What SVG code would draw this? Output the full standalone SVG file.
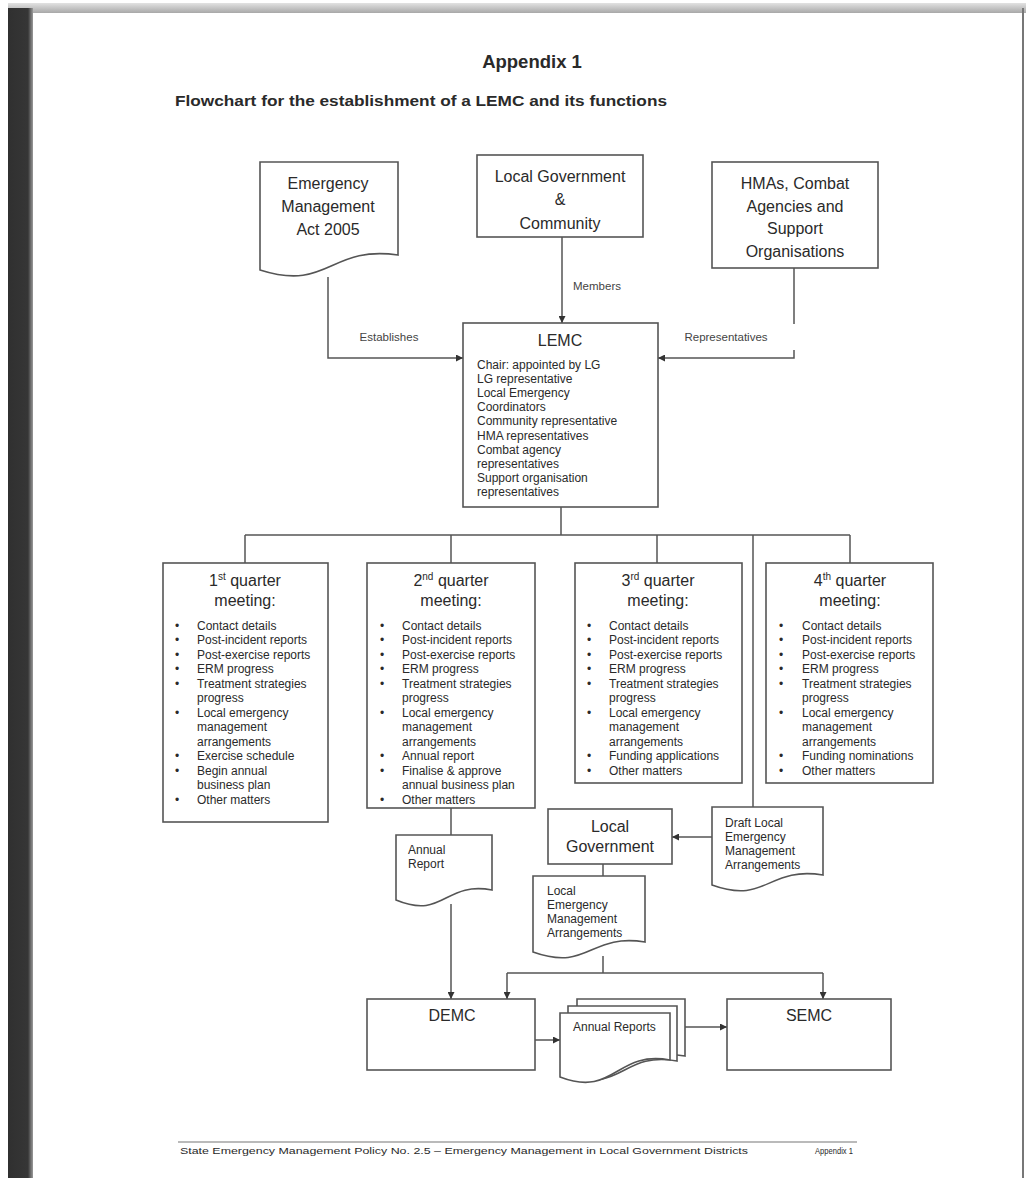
<svg xmlns="http://www.w3.org/2000/svg" width="1026" height="1178" viewBox="0 0 1026 1178">
<defs>
<style>
text{font-family:"Liberation Sans",Arial,sans-serif;fill:#2a2a2a}
.box{fill:#fff;stroke:#555;stroke-width:1.6}
.ln{fill:none;stroke:#555;stroke-width:1.5}
.t16{font-size:16px;text-anchor:middle}
.lst{font-size:12px}
.lbl{font-size:11.5px;text-anchor:middle;fill:#444}
.qt{font-size:16px;text-anchor:middle}
</style>
<linearGradient id="topbar" x1="0" y1="0" x2="0" y2="1">
<stop offset="0" stop-color="#e2e2e2"/>
<stop offset="1" stop-color="#a8a8a8"/>
</linearGradient>
<linearGradient id="leftbar" x1="0" y1="0" x2="1" y2="0">
<stop offset="0" stop-color="#303030"/>
<stop offset="0.8" stop-color="#363636"/>
<stop offset="1" stop-color="#9a9a9a"/>
</linearGradient>
<marker id="ah" viewBox="0 0 10 10" refX="10" refY="5" markerWidth="7" markerHeight="7" markerUnits="userSpaceOnUse" orient="auto">
<path d="M0,0 L10,5 L0,10 Z" fill="#333"/>
</marker>
</defs>
<rect width="1026" height="1178" fill="#fff"/>
<!-- page frame -->
<rect x="8" y="3" width="1018" height="10" fill="url(#topbar)"/>
<rect x="8" y="8" width="25" height="1170" fill="url(#leftbar)"/>
<rect x="1022" y="8" width="2" height="1170" fill="#777"/>

<text x="532" y="68" font-size="18.5" font-weight="bold" text-anchor="middle">Appendix 1</text>
<text x="175" y="106" font-size="15" font-weight="bold" textLength="492" lengthAdjust="spacingAndGlyphs">Flowchart for the establishment of a LEMC and its functions</text>

<g id="connectors">
<path class="ln" d="M328 277 V358 H463" marker-end="url(#ah)"/>
<path class="ln" d="M562 237 V323" marker-end="url(#ah)"/>
<path class="ln" d="M794 268 V324"/>
<path class="ln" d="M794 350 V358 H658" marker-end="url(#ah)"/>
<path class="ln" d="M561 507 V535 M245 535 H850 M245 535 V563 M451 535 V563 M657 535 V563 M850 535 V563 M753 535 V807"/>
<path class="ln" d="M451 808 V835"/>
<path class="ln" d="M451 904 V999" marker-end="url(#ah)"/>
<path class="ln" d="M712 837 H672" marker-end="url(#ah)"/>
<path class="ln" d="M603 864 V876"/>
<path class="ln" d="M603 956 V973 M507 973 H823"/>
<path class="ln" d="M507 973 V999" marker-end="url(#ah)"/>
<path class="ln" d="M823 973 V999" marker-end="url(#ah)"/>
<path class="ln" d="M535 1040 H560" marker-end="url(#ah)"/>
<path class="ln" d="M685 1027 H727" marker-end="url(#ah)"/>
<text class="lbl" x="389" y="341">Establishes</text>
<text class="lbl" x="597" y="290">Members</text>
<text class="lbl" x="726" y="341">Representatives</text>
</g>

<g id="ema2005">
<path class="box" d="M260 162 H398 V255 C329 245 329 292 260 270 Z"/>
<text class="t16" x="328" y="189">Emergency</text>
<text class="t16" x="328" y="212">Management</text>
<text class="t16" x="328" y="235">Act 2005</text>
</g>

<g id="lgcommunity">
<rect class="box" x="477" y="155" width="166" height="82"/>
<text class="t16" x="560" y="182">Local Government</text>
<text class="t16" x="560" y="205">&amp;</text>
<text class="t16" x="560" y="229">Community</text>
</g>

<g id="hmas">
<rect class="box" x="712" y="162" width="166" height="106"/>
<text class="t16" x="795" y="189">HMAs, Combat</text>
<text class="t16" x="795" y="211.5">Agencies and</text>
<text class="t16" x="795" y="234">Support</text>
<text class="t16" x="795" y="256.5">Organisations</text>
</g>

<g id="lemc">
<rect class="box" x="463" y="323" width="195" height="184"/>
<text class="t16" x="560" y="346">LEMC</text>
<g class="lst">
<text x="477" y="369">Chair: appointed by LG</text>
<text x="477" y="383.1">LG representative</text>
<text x="477" y="397.2">Local Emergency</text>
<text x="477" y="411.3">Coordinators</text>
<text x="477" y="425.4">Community representative</text>
<text x="477" y="439.5">HMA representatives</text>
<text x="477" y="453.6">Combat agency</text>
<text x="477" y="467.7">representatives</text>
<text x="477" y="481.8">Support organisation</text>
<text x="477" y="495.9">representatives</text>
</g>
</g>

<g id="q1">
<rect class="box" x="163" y="563" width="165" height="259"/>
<text class="qt" x="245" y="586">1<tspan font-size="10" dy="-6">st</tspan><tspan dy="6"> quarter</tspan></text>
<text class="qt" x="245" y="606">meeting:</text>
<g class="lst">
<text x="175" y="629.5">•</text><text x="197" y="629.5">Contact details</text>
<text x="175" y="644">•</text><text x="197" y="644">Post-incident reports</text>
<text x="175" y="658.5">•</text><text x="197" y="658.5">Post-exercise reports</text>
<text x="175" y="673">•</text><text x="197" y="673">ERM progress</text>
<text x="175" y="687.5">•</text><text x="197" y="687.5">Treatment strategies</text>
<text x="197" y="702">progress</text>
<text x="175" y="716.5">•</text><text x="197" y="716.5">Local emergency</text>
<text x="197" y="731">management</text>
<text x="197" y="745.5">arrangements</text>
<text x="175" y="760">•</text><text x="197" y="760">Exercise schedule</text>
<text x="175" y="774.5">•</text><text x="197" y="774.5">Begin annual</text>
<text x="197" y="789">business plan</text>
<text x="175" y="803.5">•</text><text x="197" y="803.5">Other matters</text>
</g>
</g>

<g id="q2">
<rect class="box" x="367" y="563" width="168" height="245"/>
<text class="qt" x="451" y="586">2<tspan font-size="10" dy="-6">nd</tspan><tspan dy="6"> quarter</tspan></text>
<text class="qt" x="451" y="606">meeting:</text>
<g class="lst">
<text x="380" y="629.5">•</text><text x="402" y="629.5">Contact details</text>
<text x="380" y="644">•</text><text x="402" y="644">Post-incident reports</text>
<text x="380" y="658.5">•</text><text x="402" y="658.5">Post-exercise reports</text>
<text x="380" y="673">•</text><text x="402" y="673">ERM progress</text>
<text x="380" y="687.5">•</text><text x="402" y="687.5">Treatment strategies</text>
<text x="402" y="702">progress</text>
<text x="380" y="716.5">•</text><text x="402" y="716.5">Local emergency</text>
<text x="402" y="731">management</text>
<text x="402" y="745.5">arrangements</text>
<text x="380" y="760">•</text><text x="402" y="760">Annual report</text>
<text x="380" y="774.5">•</text><text x="402" y="774.5">Finalise &amp; approve</text>
<text x="402" y="789">annual business plan</text>
<text x="380" y="803.5">•</text><text x="402" y="803.5">Other matters</text>
</g>
</g>

<g id="q3">
<rect class="box" x="575" y="563" width="167" height="220"/>
<text class="qt" x="658" y="586">3<tspan font-size="10" dy="-6">rd</tspan><tspan dy="6"> quarter</tspan></text>
<text class="qt" x="658" y="606">meeting:</text>
<g class="lst">
<text x="587" y="629.5">•</text><text x="609" y="629.5">Contact details</text>
<text x="587" y="644">•</text><text x="609" y="644">Post-incident reports</text>
<text x="587" y="658.5">•</text><text x="609" y="658.5">Post-exercise reports</text>
<text x="587" y="673">•</text><text x="609" y="673">ERM progress</text>
<text x="587" y="687.5">•</text><text x="609" y="687.5">Treatment strategies</text>
<text x="609" y="702">progress</text>
<text x="587" y="716.5">•</text><text x="609" y="716.5">Local emergency</text>
<text x="609" y="731">management</text>
<text x="609" y="745.5">arrangements</text>
<text x="587" y="760">•</text><text x="609" y="760">Funding applications</text>
<text x="587" y="774.5">•</text><text x="609" y="774.5">Other matters</text>
</g>
</g>

<g id="q4">
<rect class="box" x="766" y="563" width="167" height="220"/>
<text class="qt" x="850" y="586">4<tspan font-size="10" dy="-6">th</tspan><tspan dy="6"> quarter</tspan></text>
<text class="qt" x="850" y="606">meeting:</text>
<g class="lst">
<text x="779" y="629.5">•</text><text x="802" y="629.5">Contact details</text>
<text x="779" y="644">•</text><text x="802" y="644">Post-incident reports</text>
<text x="779" y="658.5">•</text><text x="802" y="658.5">Post-exercise reports</text>
<text x="779" y="673">•</text><text x="802" y="673">ERM progress</text>
<text x="779" y="687.5">•</text><text x="802" y="687.5">Treatment strategies</text>
<text x="802" y="702">progress</text>
<text x="779" y="716.5">•</text><text x="802" y="716.5">Local emergency</text>
<text x="802" y="731">management</text>
<text x="802" y="745.5">arrangements</text>
<text x="779" y="760">•</text><text x="802" y="760">Funding nominations</text>
<text x="779" y="774.5">•</text><text x="802" y="774.5">Other matters</text>
</g>
</g>

<g id="annualreport">
<path class="box" d="M396 835 H492 V890 C444 881 444 920 396 900 Z"/>
<text class="lst" x="408" y="854">Annual</text>
<text class="lst" x="408" y="868">Report</text>
</g>

<g id="localgov">
<rect class="box" x="548" y="809" width="124" height="55"/>
<text class="t16" x="610" y="832" font-size="16.5">Local</text>
<text class="t16" x="610" y="852" font-size="16.5">Government</text>
</g>

<g id="draftlema">
<path class="box" d="M712 807 H823 V875 C767 866 767 905 712 885 Z"/>
<text class="lst" x="725" y="827">Draft Local</text>
<text class="lst" x="725" y="841">Emergency</text>
<text class="lst" x="725" y="855">Management</text>
<text class="lst" x="725" y="869">Arrangements</text>
</g>

<g id="lema">
<path class="box" d="M533 876 H645 V942 C589 933 589 972 533 952 Z"/>
<text class="lst" x="547" y="895">Local</text>
<text class="lst" x="547" y="909">Emergency</text>
<text class="lst" x="547" y="923">Management</text>
<text class="lst" x="547" y="937">Arrangements</text>
</g>

<g id="demc">
<rect class="box" x="367" y="999" width="168" height="71"/>
<text class="t16" x="452" y="1021" font-size="17">DEMC</text>
</g>

<g id="annualreports">
<path class="box" d="M577 999 H685 V1056 C631 1046 631 1088 577 1070 Z"/>
<path class="box" d="M568 1006 H677 V1061 C622 1051 622 1094 568 1075 Z"/>
<path class="box" d="M560 1013 H670 V1060 C615 1050 615 1098 560 1077 Z"/>
<text class="lst" x="573" y="1031">Annual Reports</text>
</g>

<g id="semc">
<rect class="box" x="727" y="999" width="164" height="71"/>
<text class="t16" x="809" y="1021" font-size="17">SEMC</text>
</g>

<line x1="178" y1="1142" x2="857" y2="1142" stroke="#777" stroke-width="1.2"/>
<text x="180" y="1154" font-size="9.5" fill="#444" textLength="568" lengthAdjust="spacingAndGlyphs">State Emergency Management Policy No. 2.5 – Emergency Management in Local Government Districts</text>
<text x="815" y="1154" font-size="9.5" fill="#444" textLength="38" lengthAdjust="spacingAndGlyphs">Appendix 1</text>
</svg>
